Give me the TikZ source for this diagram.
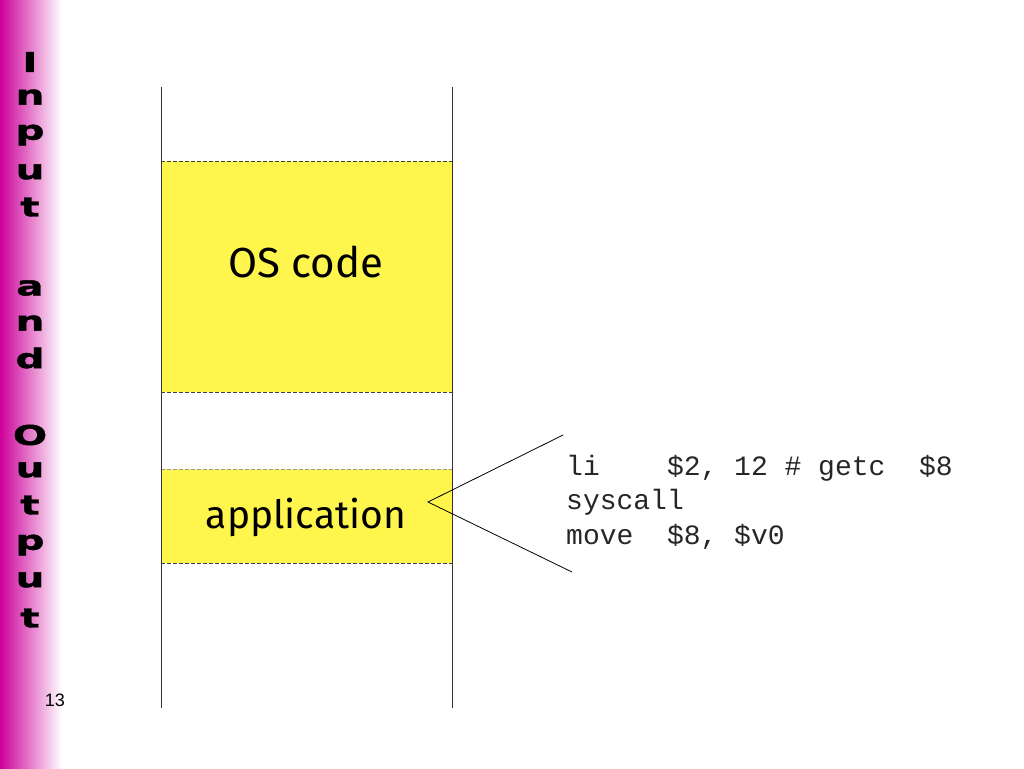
\documentclass[tikz,border=0pt]{standalone}
\usepackage{fontspec}
\setmainfont{Liberation Sans}
\newfontfamily\labelfont{Fira Sans}
\newfontfamily\codefont{Liberation Mono}
\newfontfamily\titlefont[FakeStretch=1.5,FakeBold=1.5]{DejaVu Sans Bold}
\begin{document}
\begin{tikzpicture}[x=1pt,y=-1pt,
  colline/.style={draw=black!80,line width=0.8pt},
  memblock/.style={fill=yellow!70!white,draw=none},
  sepline/.style={draw=black!75,dashed,dash pattern=on 4pt off 2pt,line width=0.8pt},
  seplight/.style={draw=black!40,dashed,dash pattern=on 4pt off 2pt,line width=0.8pt},
  blocklabel/.style={font=\labelfont\fontsize{42}{44}\selectfont,text=black},
  codetext/.style={font=\codefont\fontsize{28}{34.5}\selectfont,align=left,anchor=north west,inner sep=0pt,text=black!85},
  titleletter/.style={font=\titlefont\fontsize{27}{27}\selectfont,inner sep=0pt},
  pointer/.style={draw=black,line width=0.8pt}]
\useasboundingbox (0,0) rectangle (1024,768);
\fill[white] (0,0) rectangle (1024,768);
% side bar
\shade[left color={rgb,255:red,204;green,0;blue,153},right color=white] (0,0) rectangle (62,768);
% title letters
\foreach \ch/\yy [count=\i] in {I/62,n/97,p/135,u/172,t/207,a/288,n/323,d/358,O/435,u/470,t/505,p/545,u/580,t/618}
  \node[titleletter] (title\i) at (30,\yy) {\ch};
\node[font=\fontsize{18}{18}\selectfont] (pagenum) at (55,700) {13};
% blocks
\path[memblock] (161,161) rectangle (452,392);
\path[memblock] (161,469) rectangle (452,563);
\draw[sepline] (161,161) -- (452,161);
\draw[sepline] (161,392) -- (452,392);
\draw[seplight] (161,469) -- (452,469);
\draw[sepline] (161,563) -- (452,563);
% column lines
\draw[colline] (161,87) -- (161,708);
\draw[colline] (452,87) -- (452,708);
% labels
\node[blocklabel] (oscode) at (306,262) {OS code};
\node[blocklabel,font=\labelfont\fontsize{39}{41}\selectfont] (app) at (306,517) {application};
% code
\node[codetext] (code) at (566,455) {li\ \ \ \ \$2, 12 \# getc\ \ \$8\\syscall\\move\ \ \$8, \$v0};
% pointer
\coordinate (apex) at (428,502);
\coordinate (uptip) at (563,435);
\coordinate (downtip) at (572,572);
\draw[pointer] (uptip) -- (apex) -- (downtip);
\end{tikzpicture}
\end{document}
